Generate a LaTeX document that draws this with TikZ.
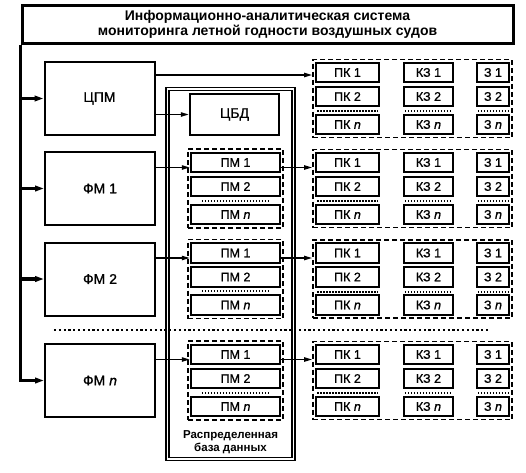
\documentclass[tikz,border=0pt]{standalone}
\usepackage{fontspec}
\setmainfont{Liberation Sans}
\newfontfamily\medfont{Liberation Sans}[FakeBold=1.0]
\usetikzlibrary{arrows.meta}
\begin{document}
\begin{tikzpicture}[x=1pt,y=-1pt,
  box/.style={draw, line width=2pt, inner sep=0pt, font=\medfont\fontsize{12.5}{14}\selectfont},
  bigbox/.style={box, minimum width=110pt, minimum height=73pt, font=\medfont\fontsize{14}{16}\selectfont},
  grp/.style={draw, line width=1.9pt, dash pattern=on 5pt off 3pt, inner sep=0pt},
  conn/.style={line width=1.3pt, -{Triangle[length=8pt,width=4.4pt]}},
  bus/.style={line width=3.4pt, -{Triangle[length=9pt,width=5.5pt]}},
  rowdots/.style={line width=1.8pt, dash pattern=on 1.5pt off 1.5pt},
  sepdots/.style={line width=2.4pt, dash pattern=on 2.2pt off 2.6pt},
  pkb/.style={box, minimum width=63pt, minimum height=19.5pt},
  kzb/.style={box, minimum width=49.5pt, minimum height=19.5pt},
  zb/.style={box, minimum width=32.5pt, minimum height=19.5pt},
  pmb/.style={box, minimum width=89.5pt, minimum height=19.5pt}]
\useasboundingbox (0,0) rectangle (526,472);
% title
\node[draw, line width=3pt, minimum width=491pt, minimum height=38pt, inner sep=0pt,
  align=center, font=\bfseries\fontsize{14}{15}\selectfont] (title) at (267.5,24)
  {Информационно-аналитическая система\\мониторинга летной годности воздушных судов};
% left modules
\node[bigbox] (cpm) at (99.5,98.5) {ЦПМ};
\node[bigbox] (fm1) at (100,188.5) {ФМ 1};
\node[bigbox] (fm2) at (100,279) {ФМ 2};
\node[bigbox] (fm3) at (100,380.5) {ФМ \textit{n}};
% database frame
\node[draw, double, line width=1.3pt, double distance=1.6pt, minimum width=126pt,
  minimum height=370pt, inner sep=0pt] (db) at (230.5,274) {};
\node[align=center, font=\bfseries\fontsize{11.5}{12.5}\selectfont] (dblabel) at (230.5,442)
  {Распределенная\\база данных};
\node[box, minimum width=89.5pt, minimum height=41.5pt, font=\medfont\fontsize{14}{16}\selectfont] (cbd) at (234.5,114.5) {ЦБД};
% PM groups
\foreach \g/\c in {1/188.5,2/279,3/380.5}{
  \node[grp, minimum width=95pt, minimum height=79pt] (pmg\g) at (235.5,\c) {};
  \node[pmb] (pm\g-1) at (235.5,\c-26) {ПМ 1};
  \node[pmb] (pm\g-2) at (235.5,\c-2) {ПМ 2};
  \node[pmb] (pm\g-3) at (235.5,\c+26) {ПМ \textit{n}};
  \draw[rowdots] ([xshift=12pt,yshift=3pt]pm\g-3.north west) -- ([xshift=-12pt,yshift=3pt]pm\g-3.north east);
}
% PK groups
\foreach \g/\c in {0/98.5,1/188.5,2/279,3/380.5}{
  \node[grp, minimum width=199pt, minimum height=78pt] (pkg\g) at (412.5,\c) {};
  \node[pkb] (pk\g-1) at (347.5,\c-26) {ПК 1};
  \node[pkb] (pk\g-2) at (347.5,\c-2) {ПК 2};
  \node[pkb] (pk\g-3) at (347.5,\c+26) {ПК \textit{n}};
  \node[kzb] (kz\g-1) at (428.5,\c-26) {КЗ 1};
  \node[kzb] (kz\g-2) at (428.5,\c-2) {КЗ 2};
  \node[kzb] (kz\g-3) at (428.5,\c+26) {КЗ \textit{n}};
  \node[zb] (z\g-1) at (493,\c-26) {З 1};
  \node[zb] (z\g-2) at (493,\c-2) {З 2};
  \node[zb] (z\g-3) at (493,\c+26) {З \textit{n}};
  \foreach \n in {pk,kz,z}{
    \draw[rowdots] ([xshift=2pt,yshift=2.5pt]\n\g-3.north west) -- ([xshift=-2pt,yshift=2.5pt]\n\g-3.north east);
  }
}
% bus
\draw[bus] (title.south west) |- (fm3.west);
\draw[bus] (title.south west |- cpm.west) -- (cpm.west);
\draw[bus] (title.south west |- fm1.west) -- (fm1.west);
\draw[bus] (title.south west |- fm2.west) -- (fm2.west);
% connectors
\coordinate (a0) at ([yshift=-2.5pt]pk0-1.west);
\draw[conn] (cpm.east |- a0) -- (pkg0.west |- a0);
\draw[conn] (cpm.east |- cbd.west) -- (cbd.west);
\foreach \g in {1,2,3}{
  \coordinate (b\g) at ([yshift=-5pt]pm\g-1.west);
  \draw[conn] (fm\g.east |- b\g) -- (b\g);
  \draw[conn] (pm\g-1.east |- b\g) -- (pkg\g.west |- b\g);
}
% separator
\coordinate (d1) at (54,330);
\coordinate (d2) at (490,330);
\draw[sepdots] (d1) -- (d2);
\end{tikzpicture}
\end{document}
